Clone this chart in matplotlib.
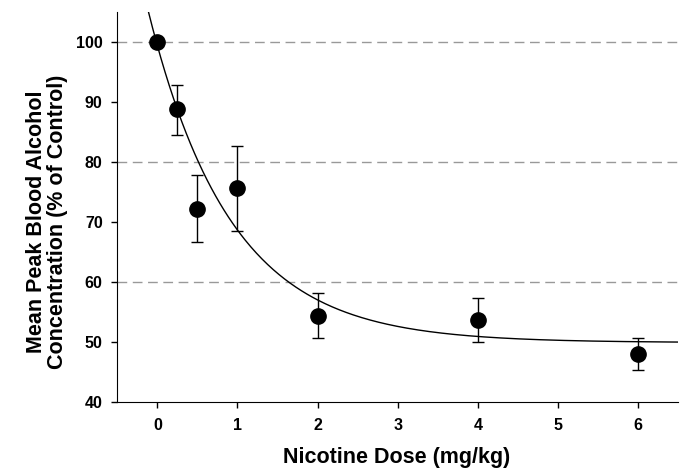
import numpy as np
import matplotlib
matplotlib.use("Agg")
import matplotlib.pyplot as plt

plt.rcParams['font.family'] = ['Liberation Sans', 'DejaVu Sans']

dose = [0, 0.25, 0.5, 1, 2, 4, 6]
mean_bac = [100, 88.8, 72.2, 75.6, 54.4, 53.6, 48.0]
err_upper = [0, 4.1, 5.7, 7.0, 3.7, 3.7, 2.7]
err_lower = [0, 4.3, 5.6, 7.1, 3.65, 3.6, 2.7]

# fitted exponential decay: y = plateau + span * exp(-k x)
plateau, span, k = 49.9, 49.5, 0.97

y_ticks = [40, 50, 60, 70, 80, 90, 100]
x_ticks = [0, 1, 2, 3, 4, 5, 6]
grid_levels = [60, 80, 100]

W, H = 683, 470
fig = plt.figure(figsize=(W / 100, H / 100), dpi=100)
ax = fig.add_axes([117.3 / W, 1 - 402 / H, (678 - 117.3) / W, (402 - 12) / H])

for g in grid_levels:
    ax.axhline(g, color='#999999', lw=1.0, ls=(0, (7, 4)), zorder=1)

xs = np.linspace(-0.5, 6.5, 400)
ax.plot(xs, plateau + span * np.exp(-k * xs), color='black', lw=1.0, zorder=2)

ax.errorbar(dose, mean_bac, yerr=[err_lower, err_upper], fmt='o', color='black',
            markersize=11, elinewidth=1.0, capsize=4, capthick=1.0, zorder=3)

ax.set_xlim(-0.5, 6.5)
ax.set_ylim(40, 105)
ax.set_xticks(x_ticks)
ax.set_yticks(y_ticks)
ax.spines['top'].set_visible(False)
ax.spines['right'].set_visible(False)
ax.tick_params(axis='both', direction='out', length=4.5, width=1, labelsize=11.5)
ax.tick_params(axis='x', pad=7)
ax.tick_params(axis='y', pad=6)
for lab in ax.get_xticklabels() + ax.get_yticklabels():
    lab.set_fontweight('bold')

fig.text(397 / W, 1 - 457 / H, 'Nicotine Dose (mg/kg)', fontsize=15.5, fontweight='bold',
         ha='center', va='center')
fig.text(47 / W, 1 - 222 / H, 'Mean Peak Blood Alcohol\nConcentration (% of Control)',
         fontsize=15.5, fontweight='bold', ha='center', va='center', rotation=90,
         multialignment='center', linespacing=1.05)

fig.savefig('out.png', dpi=100)
